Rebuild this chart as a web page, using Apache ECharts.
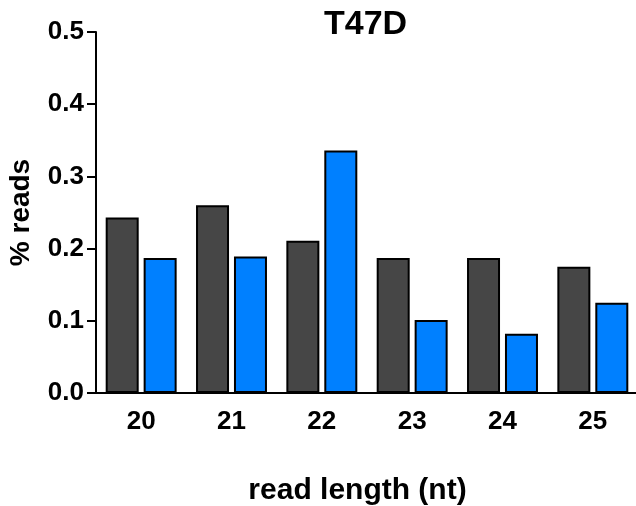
<!DOCTYPE html>
<html>
<head>
<meta charset="utf-8">
<script src="https://cdn.jsdelivr.net/npm/echarts@6/dist/echarts.min.js"></script>
<style>
html,body{margin:0;padding:0;background:#fff;}
#chart{width:636px;height:506px;}
</style>
</head>
<body>
<div id="chart"></div>
<script>
var categories = ['20', '21', '22', '23', '24', '25'];
var seriesDark = [0.243, 0.260, 0.211, 0.187, 0.187, 0.175];
var seriesBlue = [0.187, 0.189, 0.336, 0.101, 0.082, 0.125];
var yTicks = [0, 0.1, 0.2, 0.3, 0.4, 0.5];

var FONT = '"Liberation Sans", Arial, Helvetica, sans-serif';
var chart = echarts.init(document.getElementById('chart'), null, {renderer: 'canvas'});
chart.setOption({
  backgroundColor: '#ffffff',
  animation: false,
  title: {
    text: 'T47D',
    left: 319,
    top: 3,
    textStyle: {fontFamily: FONT, fontSize: 34, fontWeight: 'bold', color: '#000'}
  },
  grid: {left: 96, right: -2, top: 32, bottom: 113, containLabel: false, outerBoundsMode: 'none'},
  xAxis: {
    type: 'category',
    data: categories,
    name: 'read length (nt)',
    nameLocation: 'middle',
    nameGap: 83,
    nameTextStyle: {fontFamily: FONT, fontSize: 30, fontWeight: 'bold', color: '#000', padding: [0, 19, 0, 0]},
    axisLine: {lineStyle: {color: '#000', width: 2}},
    axisTick: {alignWithLabel: true, length: 9, lineStyle: {color: '#000', width: 2}},
    axisLabel: {fontFamily: FONT, fontSize: 26, fontWeight: 'bold', color: '#000', margin: 16},
    splitLine: {show: false}
  },
  yAxis: {
    type: 'value',
    min: yTicks[0],
    max: yTicks[yTicks.length - 1],
    interval: 0.1,
    name: '% reads',
    nameLocation: 'middle',
    nameRotate: 90,
    nameGap: 61,
    nameTextStyle: {fontFamily: FONT, fontSize: 28, fontWeight: 'bold', color: '#000'},
    axisLine: {show: true, lineStyle: {color: '#000', width: 2}},
    axisTick: {show: true, length: 9, lineStyle: {color: '#000', width: 2}},
    axisLabel: {fontFamily: FONT, fontSize: 26, fontWeight: 'bold', color: '#000', margin: 12,
      formatter: function (v) { return v.toFixed(1); }},
    splitLine: {show: false}
  },
  series: [
    {
      type: 'bar',
      data: seriesDark,
      barWidth: 33,
      barGap: '15%',
      itemStyle: {color: '#464646', borderColor: '#000', borderWidth: 2}
    },
    {
      type: 'bar',
      data: seriesBlue,
      barWidth: 33,
      barGap: '15%',
      itemStyle: {color: '#0080ff', borderColor: '#000', borderWidth: 2}
    }
  ]
});
</script>
</body>
</html>
